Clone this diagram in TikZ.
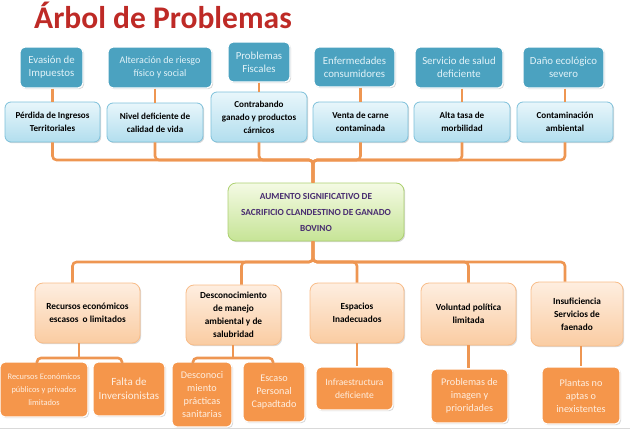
\documentclass[tikz,border=0pt]{standalone}
\usepackage{fontspec}
\setmainfont{Carlito}
\usetikzlibrary{positioning,shadows,calc}
\definecolor{tealbox}{RGB}{75,162,192}
\definecolor{tealtext}{RGB}{225,242,248}
\definecolor{teallight}{RGB}{232,246,251}
\definecolor{tealmid}{RGB}{178,222,238}
\definecolor{tealedge}{RGB}{125,192,218}
\definecolor{greenlight}{RGB}{244,250,228}
\definecolor{greenmid}{RGB}{198,228,150}
\definecolor{greenedge}{RGB}{172,208,112}
\definecolor{orangeline}{RGB}{238,150,82}
\definecolor{orangebox}{RGB}{245,150,75}
\definecolor{orangelight}{RGB}{254,238,224}
\definecolor{orangemid}{RGB}{250,204,162}
\definecolor{titlered}{RGB}{190,42,38}
\definecolor{causetext}{RGB}{72,44,112}

\begin{document}
\begin{tikzpicture}[x=1pt,y=-1pt,
  boxsize/.style 2 args={minimum width=#1pt,minimum height=#2pt},
  softshadow/.style={drop shadow={opacity=0.3,shadow xshift=1.2pt,shadow yshift=-1.2pt}},
  conn/.style={orangeline,line width=2.6pt,rounded corners=4pt},
  effect/.style={draw=white,line width=1.2pt,rounded corners=5pt,fill=tealbox,
    text=tealtext,align=center,inner sep=1pt,softshadow,
    font=\fontsize{10.8}{13}\selectfont},
  direct/.style={draw=tealedge,line width=0.8pt,rounded corners=6pt,
    top color=teallight,bottom color=tealmid,text=black,align=center,
    inner sep=1pt,softshadow,font=\fontsize{9.1}{13}\selectfont\bfseries},
  problem/.style={draw=greenedge,line width=0.8pt,rounded corners=8pt,
    top color=greenlight,bottom color=greenmid,text=causetext,align=center,
    inner sep=1pt,softshadow,font=\fontsize{9.3}{16}\selectfont\bfseries},
  cause/.style={draw=orangemid!70!orangebox,line width=0.8pt,rounded corners=8pt,
    top color=orangelight,bottom color=orangemid,text=black,align=center,
    inner sep=1pt,softshadow,font=\fontsize{9.3}{13}\selectfont\bfseries},
  root/.style={draw=white,line width=1.2pt,rounded corners=5pt,fill=orangebox,
    text=orangelight,align=center,inner sep=1pt,softshadow,
    font=\fontsize{10.2}{13}\selectfont}]
  \useasboundingbox (0,0) rectangle (630,442);

  \node[text=titlered,font=\fontsize{31.5}{36}\selectfont\bfseries] (title) at (163,15) {Árbol de Problemas};

  % effects
  \node[effect,boxsize={63}{41}] (t1) at (51.5,67.5) {Evasión de\\Impuestos};
  \node[effect,boxsize={104}{41},font=\fontsize{10}{13}\selectfont] (t2) at (160,67.5) {Alteración de riesgo\\físico y social};
  \node[effect,boxsize={62}{40}] (t3) at (259,62) {Problemas\\Fiscales};
  \node[effect,boxsize={81}{40}] (t4) at (354.5,67) {Enfermedades\\consumidores};
  \node[effect,boxsize={88}{41}] (t5) at (459,67.5) {Servicio de salud\\deficiente};
  \node[effect,boxsize={81}{41}] (t6) at (563.5,67.5) {Daño ecológico\\severo};

  % direct effects
  \node[direct,boxsize={95}{40}] (p1) at (52.5,122) {Pérdida de Ingresos\\Territoriales};
  \node[direct,boxsize={96}{39}] (p2) at (155,122.5) {Nivel deficiente de\\calidad de vida};
  \node[direct,boxsize={96}{50}] (p3) at (259,117) {Contrabando\\ganado y productos\\cárnicos};
  \node[direct,boxsize={95}{40}] (p4) at (360.5,122) {Venta de carne\\contaminada};
  \node[direct,boxsize={96}{40}] (p5) at (462,122) {Alta tasa de\\morbilidad};
  \node[direct,boxsize={96}{40}] (p6) at (565,122) {Contaminación\\ambiental};

  % central problem
  \node[problem,boxsize={176}{58}] (c) at (316,212) {AUMENTO SIGNIFICATIVO DE\\SACRIFICIO CLANDESTINO DE GANADO\\BOVINO};

  % direct causes
  \node[cause,boxsize={105}{60}] (r1) at (87.5,313) {Recursos económicos\\escasos \ o limitados};
  \node[cause,boxsize={95}{60}] (r2) at (233.5,315) {Desconocimiento\\de manejo\\ambiental y de\\salubridad};
  \node[cause,boxsize={94}{60}] (r3) at (357,313) {Espacios\\Inadecuados};
  \node[cause,boxsize={95}{62}] (r4) at (468.5,314) {Voluntad política\\limitada};
  \node[cause,boxsize={92}{64}] (r5) at (577,314) {Insuficiencia\\Servicios de\\faenado};

  % root causes
  \node[root,boxsize={88}{55},font=\fontsize{8.4}{13}\selectfont] (s1) at (44,389.5) {Recursos Económicos\\públicos y privados\\limitados};
  \node[root,boxsize={72}{54},font=\fontsize{11}{14}\selectfont] (s2) at (129,389) {Falta de\\Inversionistas};
  \node[root,boxsize={60}{65}] (s3) at (202,394.5) {Desconoci\\miento\\prácticas\\sanitarias};
  \node[root,boxsize={62}{60}] (s4) at (274,392) {Escaso\\Personal\\Capadtado};
  \node[root,boxsize={77}{43},font=\fontsize{9.6}{13}\selectfont] (s5) at (354.5,388.5) {Infraestructura\\deficiente};
  \node[root,boxsize={77}{54}] (s6) at (469.5,396) {Problemas de\\imagen y\\prioridades};
  \node[root,boxsize={78}{57}] (s7) at (581,395.5) {Plantas no\\aptas o\\inexistentes};

  % upper tree
  \foreach \i in {1,...,6}
    \draw[conn] (p\i.north |- t\i.south) -- (p\i.north);
  \coordinate (topjoin) at (313,160);
  \foreach \i in {1,...,6}
    \draw[conn] (p\i.south) |- (topjoin) -- (topjoin |- c.north);

  % lower tree
  \coordinate (botjoin) at (313,262);
  \foreach \i/\dx in {1/-15,2/8,3/0,4/0,5/-12}
    \draw[conn] (botjoin |- c.south) -- (botjoin) -| ([xshift=\dx pt]r\i.north);
  \coordinate (k1) at (79,358);
  \draw[conn] (k1 |- r1.south) -- (k1);
  \draw[conn] ([xshift=-7pt]s1.north) |- (k1) -| ([xshift=-7pt]s2.north);
  \coordinate (k2) at (233,358);
  \draw[conn] (k2 |- r2.south) -- (k2);
  \draw[conn] ([xshift=-9pt]s3.north) |- (k2) -| ([xshift=-1pt]s4.north);
  \draw[conn] (r3.south) -- (r3.south |- s5.north);
  \draw[conn] (r4.south) -- (r4.south |- s6.north);
  \draw[conn] (s7.north |- r5.south) -- (s7.north);

  \draw[black!15,line width=0.8pt] (0,428) -- (630,428);
\end{tikzpicture}
\end{document}
